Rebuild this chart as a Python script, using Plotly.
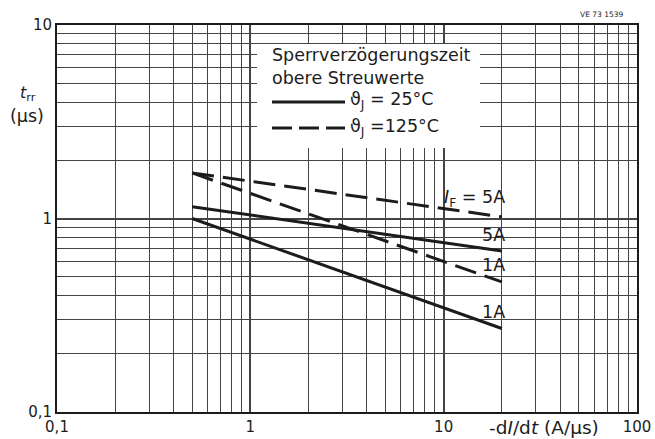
import math
import plotly.graph_objects as go

# Rate of fall of forward current -dI/dt (A/µs) spanned by the curves
didt = [0.5, 20]

# Reverse recovery time t_rr (µs), upper spread values
trr_25C_5A = [1.15, 0.68]
trr_25C_1A = [1.00, 0.27]
trr_125C_5A = [1.72, 1.02]
trr_125C_1A = [1.72, 0.47]

# Curve captions and the t_rr value each caption sits at (at the right end x = 20)
curve_labels = ["<i>I</i><sub>F</sub> = 5A", "5A", "1A", "1A"]
curve_label_y = [1.27, 0.82, 0.575, 0.33]

x_tickvals = [0.1, 1, 10, 100]
x_ticktext = ["0,1", "1", "10", "100"]
y_tickvals = [0.1, 1, 10]
y_ticktext = ["0,1", "1", "10"]

# Grid values of the log paper (2..9 in every decade)
x_minor = [k * 10 ** d for d in (-1, 0, 1) for k in range(2, 10)]
y_minor = [k * 10 ** d for d in (-1, 0) for k in range(2, 10)]

W, H = 655, 439
L, R, T, B = 57, 637, 25, 412
X_LOG = (-1, 2)
Y_LOG = (-1, 1)
FONT = "DejaVu Sans"
INK = "#1c1c1c"
GRID = "#444444"


def dx(px):
    # pixel column -> fraction of the plot area ("paper" units)
    return (px - L) / (R - L)


def dy(py):
    # pixel row -> fraction of the plot area ("paper" units)
    return (B - py) / (B - T)


def xv(px):
    # pixel column -> axis value (log x axis)
    return 10 ** (X_LOG[0] + (X_LOG[1] - X_LOG[0]) * dx(px))


def yv(py):
    # pixel row -> axis value (log y axis)
    return 10 ** (Y_LOG[0] + (Y_LOG[1] - Y_LOG[0]) * dy(py))


fig = go.Figure()

curve_style = dict(color=INK, width=3)
dashed_style = dict(color=INK, width=3, dash="22px,9px")

for y, style in [
    (trr_125C_5A, dashed_style),
    (trr_125C_1A, dashed_style),
    (trr_25C_5A, curve_style),
    (trr_25C_1A, curve_style),
]:
    fig.add_trace(
        go.Scatter(x=didt, y=y, mode="lines", line=style, showlegend=False,
                   hoverinfo="skip")
    )

axis_common = dict(
    type="log",
    showline=True,
    linecolor=INK,
    linewidth=2,
    mirror=True,
    ticks="",
    showgrid=True,
    gridcolor=GRID,
    gridwidth=1.7,
    zeroline=False,
    automargin=False,
    tickfont=dict(family=FONT, size=15, color=INK),
)

fig.update_xaxes(
    **axis_common,
    range=list(X_LOG),
    tickvals=x_tickvals,
    ticktext=x_ticktext,
    minor=dict(tickvals=x_minor, showgrid=True, gridcolor=GRID, gridwidth=1.3, ticks=""),
)
fig.update_yaxes(
    **axis_common,
    range=list(Y_LOG),
    tickvals=y_tickvals,
    ticktext=y_ticktext,
    minor=dict(tickvals=y_minor, showgrid=True, gridcolor=GRID, gridwidth=1.3, ticks=""),
)

shapes = [
    # white panel behind the key (covers the grid, not the curves)
    dict(type="rect", xref="x", yref="y",
         x0=xv(257), x1=xv(480), y0=yv(148), y1=yv(44),
         fillcolor="white", line=dict(width=0), layer="between"),
    # key line samples
    dict(type="line", xref="x", yref="y",
         x0=xv(272), x1=xv(345), y0=yv(102), y1=yv(102),
         line=dict(color=INK, width=3)),
    dict(type="line", xref="x", yref="y",
         x0=xv(272), x1=xv(345), y0=yv(128), y1=yv(128),
         line=dict(color=INK, width=3, dash="20px,7px")),
]

annotations = []


def text_at(text, px, py, size=17, xanchor="left"):
    annotations.append(dict(
        text=text, xref="paper", yref="paper", x=dx(px), y=dy(py),
        xanchor=xanchor, yanchor="middle", showarrow=False,
        font=dict(family=FONT, size=size, color=INK),
    ))


# key
text_at("Sperrverzögerungszeit", 270, 55, size=17.5)
text_at("obere Streuwerte", 270, 78, size=17.5)
text_at("ϑ<sub>J</sub> = 25°C", 348, 101, size=17.5)
text_at("ϑ<sub>J</sub> =125°C", 348, 127, size=17.5)

# captions at the right ends of the curves
for text, val in zip(curve_labels, curve_label_y):
    annotations.append(dict(
        text=text, xref="x", yref="y", x=math.log10(didt[1]), y=math.log10(val),
        xanchor="right", yanchor="middle", xshift=5, showarrow=False,
        font=dict(family=FONT, size=17.5, color=INK),
    ))

# axis titles and drawing number
text_at("<i>t</i><sub>rr</sub>", 28, 93, size=16, xanchor="center")
text_at("(µs)", 27, 116, size=17.5, xanchor="center")
text_at("-d<i>I</i>/d<i>t</i> (A/µs)", 544, 428, size=18.5, xanchor="center")
text_at("VE 73 1539", 601, 14, size=7.5, xanchor="center")

fig.update_layout(
    width=W,
    height=H,
    margin=dict(l=L, r=W - R, t=T, b=H - B, autoexpand=False),
    paper_bgcolor="white",
    plot_bgcolor="white",
    shapes=shapes,
    annotations=annotations,
    showlegend=False,
)

fig.write_html("out.html")
